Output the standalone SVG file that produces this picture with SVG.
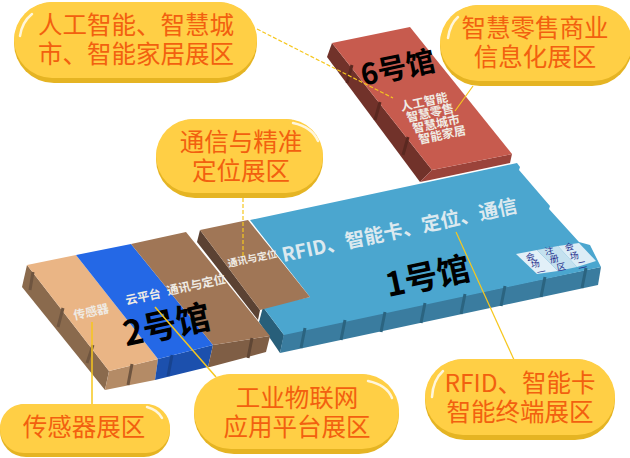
<svg xmlns="http://www.w3.org/2000/svg" width="630" height="458" viewBox="0 0 630 458">
<style>
text{font-family:"Noto Sans CJK SC","Noto Sans",sans-serif}
.pb{fill:#E5B423}.pt{fill:#FFCF45}
.hl{fill:none;stroke:#FFF6DC;stroke-width:2.5;stroke-linecap:round}
.pl{fill:#F2600F;font-size:24.5px;text-anchor:middle}
.ld{fill:none;stroke:#F6C71E;stroke-width:1.2}
.ds{stroke-dasharray:4 2}
.lb{fill:#EFEBE4;font-weight:700;text-anchor:middle}
.hn{fill:#000;font-weight:700;text-anchor:middle}
.nt{fill:none;stroke-width:3}
.sg{fill:#1F2F8C;font-size:9px;text-anchor:middle}
</style>
<rect width="630" height="458" fill="#fff"/>
<g id="hall6">
<polygon points="332,43 327,57 420,182 432,170" fill="#71322A"/>
<polygon points="432,170 512,154 510,163 430,180 420,182" fill="#9B433A"/>
<polygon points="332,43 410,27 512,154 432,170" fill="#C75B4E"/>
<path class="nt" stroke="#5A2820" d="M352,65 347,83M380,102 375,120M408,137 403,155"/>
<text class="hn" font-size="29" transform="translate(400,78) rotate(-12)">6号馆</text>
<text class="lb" font-size="12" transform="translate(425,106) rotate(-12)"><tspan x="0">人工智能</tspan><tspan x="3.6" dy="12">智慧零售</tspan><tspan x="7.2" dy="12">智慧城市</tspan><tspan x="10.8" dy="12">智能家居</tspan></text>
</g>
<g id="hall1">
<polygon points="263,307 284,335 280,353 259,322" fill="#285F7A"/>
<polygon points="284,333 601,267 598,285 280,353" fill="#3A7C9F"/>
<polygon points="250,220 517,163 520,167 519,170 550,206 549,209 579,242 590,245 601,267 284,335 263,307 310,297" fill="#4BA6CF"/>
<path class="nt" stroke="#2B6480" d="M305,328 301,348M345,320 341,340M385,312 381,332M425,303 421,323M465,294 461,314M505,286 501,306M545,277 541,297M586,268 582,288"/>
<polygon points="516,254 537,250 558,271 537,274" fill="#E2F0F8"/>
<polygon points="537,250 558,246 577,267 558,271" fill="#C5E1EF"/>
<polygon points="558,246 579,243 596,261 577,267" fill="#DCEDF6"/>
<text class="sg" x="531 536 542 550 555 562 570 575 583" y="261 268 276 255 263 271 251 260 269" rotate="-12">会场一注册区会场二</text>
<text class="lb" font-size="19.5" style="fill:#DCE9EF" transform="translate(401,237) rotate(-12)">RFID、智能卡、定位、通信</text>
<text class="hn" font-size="33" transform="translate(430,288) rotate(-12)">1号馆</text>
</g>
<g id="hall1-brown">
<polygon points="200,230 197,242 258,320 260,310" fill="#5B4233"/>
<polygon points="200,230 248,220 310,297 260,310" fill="#A07656"/>
<text class="lb" font-size="10" transform="translate(253,262) rotate(-12)">通讯与定位</text>
</g>
<g id="hall2">
<polygon points="27,265 22,287 105,390 109,371" fill="#8A6A4D"/>
<polygon points="109,371 158,359 155,380 105,390" fill="#B48B66"/>
<polygon points="158,359 213,345 208,367 155,380" fill="#1C50AD"/>
<polygon points="213,345 270,336 266,352 210,367 208,367" fill="#7F5E45"/>
<polygon points="27,265 76,255 158,359 109,371" fill="#EAB585"/>
<polygon points="76,255 131,244 213,345 158,359" fill="#2468E6"/>
<polygon points="131,244 186,232 270,336 213,345" fill="#A07656"/>
<path class="nt" stroke="#6F5540" d="M33,272 30,290M63,308 58,327M93,345 87,363M132,364 128,385"/>
<path class="nt" stroke="#17438F" d="M172,355 168,376"/>
<path class="nt" stroke="#5F4635" d="M252,338 248,358"/>
<text class="lb" font-size="12" transform="translate(92,316) rotate(-12)">传感器</text>
<text class="lb" font-size="12" transform="translate(144,301) rotate(-12)">云平台</text>
<text class="lb" font-size="12" transform="translate(197,289) rotate(-12)">通讯与定位</text>
<text class="hn" font-size="34" transform="translate(169,337) rotate(-12)">2号馆</text>
</g>
<g id="connectors">
<path class="ld ds" d="M257,29 393,98"/>
<path class="ld ds" d="M243,198V256"/>
<path class="ld" d="M473,86 455,111"/>
<path class="ld" d="M456,232 515,362"/>
<path class="ld" style="stroke-width:1.5" d="M155,307 216,377"/>
<path class="ld" style="stroke-width:1.5" d="M92,322V404"/>
</g>
<g id="pill-ai">
<rect class="pb" x="14" y="2" width="243" height="81" rx="40"/>
<rect class="pt" x="14" y="2" width="243" height="76" rx="38"/>
<path class="hl" d="M20,36Q22,22 32,14"/>
<text class="pl"><tspan x="136" y="34">人工智能、智慧城</tspan><tspan x="136" y="63">市、智能家居展区</tspan></text>
</g>
<g id="pill-retail">
<rect class="pb" x="440" y="5" width="192" height="81" rx="40"/>
<rect class="pt" x="440" y="5" width="192" height="76" rx="38"/>
<path class="hl" d="M448,38Q450,24 458,17"/>
<text class="pl"><tspan x="535" y="37">智慧零售商业</tspan><tspan x="535" y="66">信息化展区</tspan></text>
</g>
<g id="pill-comm">
<rect class="pb" x="156" y="119" width="167" height="79" rx="39"/>
<rect class="pt" x="156" y="119" width="167" height="74" rx="37"/>
<path class="hl" d="M293,123Q312,127 318,141"/>
<text class="pl"><tspan x="241" y="151">通信与精准</tspan><tspan x="241" y="180">定位展区</tspan></text>
</g>
<g id="pill-rfid">
<rect class="pb" x="425" y="359" width="190" height="81" rx="40"/>
<rect class="pt" x="425" y="359" width="190" height="76" rx="38"/>
<path class="hl" d="M432,397Q433,380 443,371"/>
<text class="pl"><tspan x="520" y="392">RFID、智能卡</tspan><tspan x="520" y="421">智能终端展区</tspan></text>
</g>
<g id="pill-iot">
<rect class="pb" x="194" y="374" width="205" height="80" rx="40"/>
<rect class="pt" x="194" y="374" width="205" height="75" rx="37"/>
<path class="hl" d="M368,381Q387,385 392,398"/>
<text class="pl"><tspan x="297" y="407">工业物联网</tspan><tspan x="297" y="436">应用平台展区</tspan></text>
</g>
<g id="pill-sensor">
<rect class="pb" x="0" y="404" width="170" height="53" rx="26"/>
<rect class="pt" x="0" y="404" width="170" height="49" rx="24"/>
<path class="hl" d="M147,407Q158,410 162,418"/>
<text class="pl" x="84" y="436">传感器展区</text>
</g>
</svg>
